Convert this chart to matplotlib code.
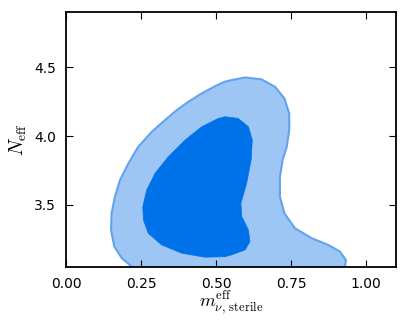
import matplotlib
matplotlib.use("Agg")
import matplotlib.pyplot as plt

# =============================================================================
# DATA (contour outlines)
# =============================================================================
# outer (95%) region, running from the bottom left, up and round clockwise
outer_x = [0.212, 0.219, 0.186, 0.161, 0.150, 0.152, 0.163, 0.180, 0.208, 0.241,
           0.286, 0.330, 0.369, 0.408, 0.452, 0.497, 0.530, 0.552, 0.597, 0.652,
           0.697, 0.728, 0.744, 0.744, 0.736, 0.722, 0.713, 0.713, 0.728, 0.763,
           0.819, 0.874, 0.913, 0.933, 0.930, 0.926]
outer_y = [3.00, 3.053, 3.114, 3.198, 3.319, 3.440, 3.560, 3.681, 3.802, 3.923,
           4.031, 4.116, 4.188, 4.249, 4.309, 4.362, 4.395, 4.406, 4.425, 4.411,
           4.357, 4.273, 4.164, 4.043, 3.923, 3.826, 3.705, 3.560, 3.440, 3.331,
           3.259, 3.210, 3.162, 3.101, 3.050, 3.00]

# inner (68%) region
inner_x = [0.530, 0.574, 0.608, 0.621, 0.617, 0.602, 0.583, 0.586, 0.608, 0.613,
           0.597, 0.552, 0.530, 0.463, 0.386, 0.319, 0.274, 0.258, 0.256, 0.269,
           0.297, 0.341, 0.397, 0.452, 0.508, 0.530]
inner_y = [4.140, 4.128, 4.067, 3.971, 3.826, 3.657, 3.512, 3.415, 3.319, 3.234,
           3.174, 3.138, 3.125, 3.121, 3.150, 3.210, 3.295, 3.391, 3.488, 3.609,
           3.730, 3.850, 3.971, 4.067, 4.128, 4.140]

x_ticks = [0.0, 0.25, 0.5, 0.75, 1.0]
y_ticks = [3.5, 4.0, 4.5]

plt.rcParams['mathtext.fontset'] = 'cm'

fig = plt.figure(figsize=(4.08, 3.27), dpi=100)
ax = fig.add_axes([0.1618, 0.1835, 0.8088, 0.7798])

ax.fill(outer_x, outer_y, facecolor='#9dc6f5', edgecolor='#62a3f0',
        linewidth=1.5, joinstyle='round', zorder=1)
ax.fill(inner_x, inner_y, facecolor='#0072e9', edgecolor='#0072e9',
        linewidth=0.5, joinstyle='round', zorder=2)

ax.set_xlim(0, 1.1)
ax.set_ylim(3.05, 4.9)
ax.set_xticks(x_ticks)
ax.set_xticklabels(['%.2f' % v for v in x_ticks])
ax.set_yticks(y_ticks)
ax.set_yticklabels(['%.1f' % v for v in y_ticks])
ax.tick_params(direction='in', top=True, right=True, length=5, width=0.8,
               labelsize=10, pad=7)
for s in ax.spines.values():
    s.set_linewidth(1.3)

ax.set_xlabel(r'$m_{\nu,\,{\rm sterile}}^{\rm eff}$', fontsize=13, labelpad=-1)
ax.set_ylabel(r'$N_{\rm eff}$', fontsize=14, labelpad=4)

fig.savefig('out.png', dpi=100)
